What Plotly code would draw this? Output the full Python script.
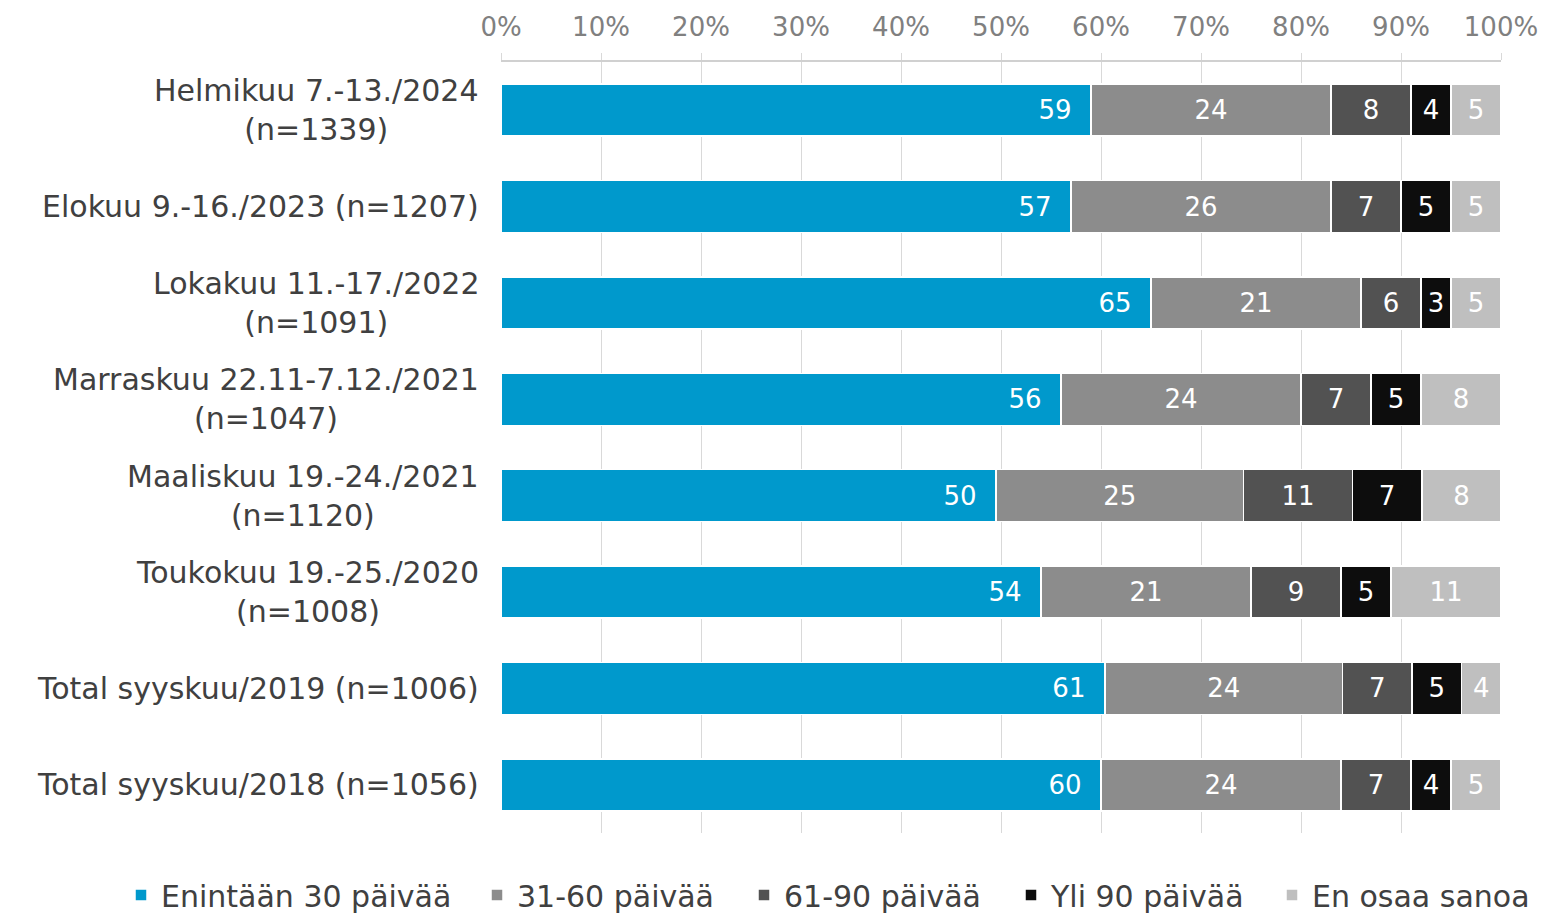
import plotly.graph_objects as go

categories = [
    "Helmikuu 7.-13./2024<br>(n=1339)",
    "Elokuu 9.-16./2023 (n=1207)",
    "Lokakuu 11.-17./2022<br>(n=1091)",
    "Marraskuu 22.11-7.12./2021<br>(n=1047)",
    "Maaliskuu 19.-24./2021<br>(n=1120)",
    "Toukokuu 19.-25./2020<br>(n=1008)",
    "Total syyskuu/2019 (n=1006)",
    "Total syyskuu/2018 (n=1056)",
]
series_names = ["Enintään 30 päivää", "31-60 päivää", "61-90 päivää", "Yli 90 päivää", "En osaa sanoa"]
enintaan_30 = [59, 57, 65, 56, 50, 54, 61, 60]
paivaa_31_60 = [24, 26, 21, 24, 25, 21, 24, 24]
paivaa_61_90 = [8, 7, 6, 7, 11, 9, 7, 7]
yli_90 = [4, 5, 3, 5, 7, 5, 5, 4]
en_osaa = [5, 5, 5, 8, 8, 11, 4, 5]
tick_vals = [0, 10, 20, 30, 40, 50, 60, 70, 80, 90, 100]
tick_text = ["0%", "10%", "20%", "30%", "40%", "50%", "60%", "70%", "80%", "90%", "100%"]

colors = ["#0099CC", "#8C8C8C", "#525252", "#0D0D0D", "#BFBFBF"]
series = [enintaan_30, paivaa_31_60, paivaa_61_90, yli_90, en_osaa]
FONT = "DejaVu Sans"
NBSP = "\u00a0"

# pixel layout
PL, PR, PT, PB = 501, 1501, 62, 833
W, H = 1544, 915
legend_px = [121, 477, 744, 1011, 1272]
legend_names = ["legend2", "legend3", "legend4", "legend5", "legend6"]

fig = go.Figure()
for i, (name, vals) in enumerate(zip(series_names, series)):
    labels = [str(v) + (NBSP * 2 if i == 0 else "") for v in vals]
    fig.add_trace(go.Bar(
        y=categories, x=vals, name=name, orientation="h",
        marker=dict(color=colors[i], line=dict(color="white", width=1.5)),
        text=labels, textposition="inside",
        insidetextanchor="end" if i == 0 else "middle",
        textfont=dict(color="white", size=26, family=FONT),
        constraintext="none", hoverinfo="x+y+name",
        legend=legend_names[i],
    ))

for c in categories:
    fig.add_annotation(
        x=0, xref="paper", y=c, yref="y", text=c, showarrow=False,
        xanchor="right", yanchor="middle", align="center", xshift=-20,
        font=dict(size=30, color="#404040", family=FONT),
    )

legend_common = dict(
    orientation="h", xref="paper", yref="paper", xanchor="left",
    y=-(895 - PB) / (PB - PT), yanchor="middle",
    font=dict(size=30, color="#404040", family=FONT),
    itemwidth=30, bgcolor="rgba(0,0,0,0)",
)
legend_layout = {}
for ln, px in zip(legend_names, legend_px):
    legend_layout[ln] = dict(legend_common, x=(px - PL) / (PR - PL))

fig.update_layout(
    barmode="stack", barnorm="percent", bargap=0.46,
    width=W, height=H,
    margin=dict(l=PL, r=W - PR, t=PT, b=H - PB, autoexpand=False),
    paper_bgcolor="white", plot_bgcolor="white",
    font=dict(family=FONT, color="#404040"),
    xaxis=dict(
        side="top", range=[0, 100], tickvals=tick_vals, ticktext=tick_text,
        tickfont=dict(size=26, color="#808080", family=FONT),
        showgrid=True, gridcolor="#D9D9D9", gridwidth=1,
        showline=True, linecolor="#D0D0D0", linewidth=1.5,
        ticks="outside", ticklen=7, tickcolor="#D9D9D9",
        ticklabelstandoff=7, zeroline=False, fixedrange=True, automargin=False,
    ),
    yaxis=dict(
        autorange="reversed", showticklabels=False, showgrid=False,
        zeroline=False, fixedrange=True, automargin=False,
    ),
    **legend_layout,
)

fig.write_html("out.html", config={"displayModeBar": False},
               post_script="document.body.style.margin='0';")
